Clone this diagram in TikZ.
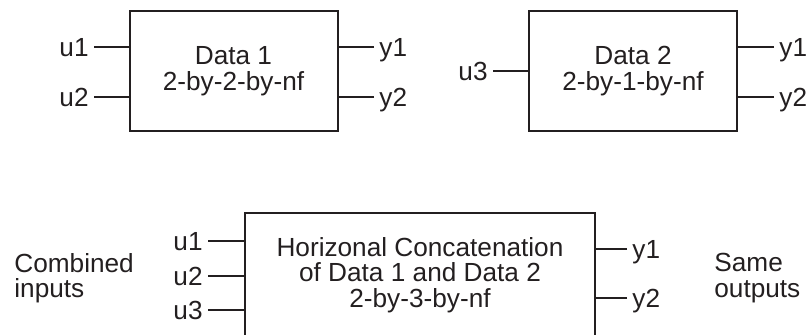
\documentclass[tikz,border=0pt]{standalone}
\usepackage{fontspec}
\setmainfont{Liberation Sans}
\usepackage{tikz}
\usetikzlibrary{positioning}
\definecolor{ink}{RGB}{35,31,32}
\tikzset{block/.style={
    draw=ink, line width=1pt, text=ink, align=center, inner sep=0pt
}}
\tikzset{port/.style={
    text=ink, inner xsep=2.5pt, inner ysep=0pt, text height=9.4pt, text depth=0pt
}}
\tikzset{wire/.style={draw=ink, line width=1pt}}
\tikzset{note/.style={text=ink, align=left, anchor=north west, inner sep=0pt}}

\begin{document}
\begin{tikzpicture}[x=0.5pt, y=-0.5pt, font=\fontsize{13.1}{12.8}\selectfont]
\useasboundingbox (0,0) rectangle (808,335);

%Data 1
\node[block, minimum width=104pt, minimum height=60pt] (d1) at (233.5,71) {Data 1\\2-by-2-by-nf};
\node[port, anchor=east] (d1u1) at (94,47) {u1};
\node[port, anchor=east] (d1u2) at (94,97) {u2};
\node[port, anchor=west] (d1y1) at (374,47) {y1};
\node[port, anchor=west] (d1y2) at (374,97) {y2};
\draw[wire] (d1u1) -- (d1u1 -| d1.west);
\draw[wire] (d1u2) -- (d1u2 -| d1.west);
\draw[wire] (d1y1) -- (d1y1 -| d1.east);
\draw[wire] (d1y2) -- (d1y2 -| d1.east);

%Data 2
\node[block, minimum width=104pt, minimum height=60pt] (d2) at (633,71) {Data 2\\2-by-1-by-nf};
\node[port, anchor=east] (d2u3) at (493,71) {u3};
\node[port, anchor=west] (d2y1) at (774,47) {y1};
\node[port, anchor=west] (d2y2) at (774,97) {y2};
\draw[wire] (d2u3) -- (d2u3 -| d2.west);
\draw[wire] (d2y1) -- (d2y1 -| d2.east);
\draw[wire] (d2y2) -- (d2y2 -| d2.east);

%concatenation
\node[block, minimum width=175pt, minimum height=62pt] (cat) at (420,275)
    {Horizonal Concatenation\\of Data 1 and Data 2\\2-by-3-by-nf};
\node[port, anchor=east] (cu1) at (208,241) {u1};
\node[port, anchor=east] (cu2) at (208,276) {u2};
\node[port, anchor=east] (cu3) at (208,310) {u3};
\node[port, anchor=west] (cy1) at (627,249) {y1};
\node[port, anchor=west] (cy2) at (627,298) {y2};
\draw[wire] (cu1) -- (cu1 -| cat.west);
\draw[wire] (cu2) -- (cu2 -| cat.west);
\draw[wire] (cu3) -- (cu3 -| cat.west);
\draw[wire] (cy1) -- (cy1 -| cat.east);
\draw[wire] (cy2) -- (cy2 -| cat.east);

\node[note] (inputs) at (14,253) {Combined\\inputs};
\node[note] (outputs) at (714,253) {Same\\outputs};

\end{tikzpicture}
\end{document}
